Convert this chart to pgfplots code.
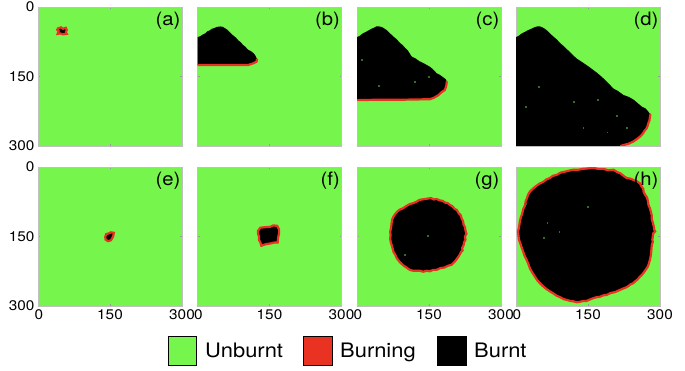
\documentclass[border=0pt]{standalone}
\usepackage{pgfplots}
\pgfplotsset{compat=1.18}
\usepackage{fontspec}
\setmainfont{TeX Gyre Heros}[FakeStretch=1.1]

\definecolor{unburnt}{RGB}{118,245,76}
\definecolor{burning}{RGB}{233,50,33}
\definecolor{frame}{RGB}{192,192,192}

\pgfplotsset{
  panel/.style={
    anchor=north west, width=144bp, height=139bp, scale only axis,
    xmin=0, xmax=300, ymin=0, ymax=300, y dir=reverse,
    axis background/.style={fill=unburnt},
    axis line style={draw=frame, line width=0.5bp},
    tick style={draw=frame!80!black, line width=0.4bp},
    major tick length=2bp, tick align=inside,
    xtick={0,150,300}, ytick={0,150,300},
    xticklabels={}, yticklabels={},
    tick label style={font=\fontsize{14}{15}\selectfont},
    /pgf/number format/assume math mode=true,
  },
  ylab/.style={yticklabels={0,150,300}},
  xlab/.style={xticklabels={{\hspace{2bp}0},150,{300\hspace{8bp}}}},
  burnt/.style={fill=black, draw=none},
  front/.style={draw=burning, line width=2.2bp, line join=miter, line cap=round},
  edge/.style={fill=black, draw=burning, line width=2.2bp, line join=miter},
  speck/.style={only marks, mark=square*, mark size=0.4bp, color=unburnt!45!black},
}
\newcommand\panellabel[1]{%
  \node[anchor=north east, inner sep=0pt, xshift=-1.5bp, yshift=-4.5bp,
        font=\fontsize{18.5}{18.5}\selectfont] at (axis cs:300,0) {#1};}

\begin{document}
\begin{tikzpicture}
\useasboundingbox (0,0) rectangle (685bp,-371bp);

% ---------------- wind-driven spread (top row) ----------------
\begin{axis}[panel, ylab, at={(38bp,-7bp)}]
  \addplot[edge] coordinates {(42,46) (48,44) (52,47) (58,45) (60,50) (58,54) (60,58) (52,59) (46,57) (41,58) (43,52) (40,49)} -- cycle;
  \panellabel{(a)}
\end{axis}

\begin{axis}[panel, at={(197.5bp,-7bp)}]
  \addplot[burnt] coordinates {(0,65) (6,63) (10,60) (16,57) (20,53) (26,50) (30,47) (36,45) (40,43) (48,42) (53,43) (56,45) (62,49) (65,52) (70,57) (75,62) (80,66) (85,72) (90,76) (95,82) (100,86) (105,92) (111,95) (117,100) (120,104) (122,108) (124,113) (123,118) (115,122) (106,125) (0,125)} -- cycle;
  \addplot[front] coordinates {(0,125) (30,125) (60,125) (90,125) (106,125) (115,122) (123,118) (124,113)};
  \panellabel{(b)}
\end{axis}

\begin{axis}[panel, at={(357bp,-7bp)}]
  \addplot[burnt] coordinates {(0,65) (6,62) (12,57) (18,54) (25,50) (30,47) (35,45) (40,42) (46,42) (51,43) (55,45) (59,48) (62,50) (68,56) (76,64) (82,69) (90,78) (95,82) (100,88) (106,94) (114,107) (122,111) (130,117) (140,122) (152,129) (158,134) (166,143) (172,146) (180,152) (185,156) (187,161) (186,170) (183,179) (176,184) (170,190) (160,196) (152,199) (100,200) (50,200) (0,201)} -- cycle;
  \addplot[front] coordinates {(187,161) (186,170) (183,179) (176,184) (170,190) (160,196) (152,199) (100,200) (50,200) (0,201)};
  \addplot[speck] coordinates {(46,170) (10,113) (120,162) (150,150)};
  \panellabel{(c)}
\end{axis}

\begin{axis}[panel, at={(516bp,-7bp)}]
  \addplot[burnt] coordinates {(0,65) (6,62) (12,57) (18,54) (25,50) (32,47) (38,44) (44,42) (50,42) (55,44) (60,47) (65,51) (70,56) (78,64) (85,70) (92,78) (100,85) (110,95) (118,103) (126,111) (135,117) (145,124) (152,129) (161,136) (170,143) (180,152) (190,162) (203,176) (212,181) (224,190) (235,194) (245,200) (253,207) (262,215) (270,219) (275,225) (280,232) (279,238) (278,245) (276,250) (274,257) (272,262) (268,267) (265,272) (262,276) (258,280) (252,285) (245,290) (235,295) (224,298) (218,300) (0,300)} -- cycle;
  \addplot[front] coordinates {(280,232) (279,238) (278,245) (276,250) (274,257) (272,262) (268,267) (265,272) (262,276) (258,280) (252,285) (245,290) (235,295) (224,298) (218,300)};
  \addplot[speck] coordinates {(48,172) (20,215) (120,205) (170,200) (210,235) (140,260) (190,270) (230,260)};
  \panellabel{(d)}
\end{axis}

% ---------------- no-wind spread (bottom row) ----------------
\begin{axis}[panel, ylab, xlab, at={(38bp,-167bp)}]
  \addplot[edge] coordinates {(142,145) (148,143) (152,141) (158,142) (157,148) (155,153) (152,158) (146,160) (141,157) (140,151)} -- cycle;
  \panellabel{(e)}
\end{axis}

\begin{axis}[panel, xlab, at={(197.5bp,-167bp)}]
  \addplot[edge] coordinates {(131,131) (140,130) (152,129) (158,126) (166,127) (170,135) (170,143) (168,152) (167,163) (160,163) (152,165) (145,166) (138,168) (133,170) (131,163) (128,157) (128,150) (126,144) (126,138)} -- cycle;
  \panellabel{(f)}
\end{axis}

\begin{axis}[panel, xlab, at={(357bp,-167bp)}]
  \addplot[edge] coordinates {(148,68) (154,67) (160,70) (166,69) (172,72) (178,73) (184,77) (189,78) (194,82) (199,85) (203,90) (208,93) (212,100) (216,104) (218,111) (221,117) (222,124) (225,130) (226,137) (228,144) (225,150) (226,157) (223,163) (222,169) (219,175) (220,180) (217,183) (213,191) (209,197) (204,204) (197,211) (190,213) (182,217) (174,218) (166,222) (159,222) (152,225) (145,224) (138,226) (131,224) (124,224) (117,224) (110,222) (103,217) (96,212) (89,205) (83,197) (80,190) (76,183) (74,175) (72,168) (70,161) (69,154) (70,147) (69,140) (71,131) (72,122) (73,114) (76,107) (80,101) (84,96) (89,92) (96,89) (103,84) (110,80) (117,78) (124,75) (130,71) (136,70) (142,69)} -- cycle;
  \addplot[speck] coordinates {(147,149) (100,190)};
  \panellabel{(g)}
\end{axis}

\begin{axis}[panel, xlab, at={(516bp,-167bp)}]
  \addplot[edge] coordinates {(102,10) (110,8) (119,6) (129,6) (140,4) (150,3) (161,2) (171,4) (182,4) (192,7) (203,6) (211,11) (218,14) (225,20) (231,24) (238,25) (245,28) (252,31) (258,35) (261,41) (265,47) (266,54) (269,60) (273,66) (275,74) (276,82) (279,89) (281,97) (283,105) (283,113) (285,120) (287,128) (288,135) (290,139) (286,143) (285,150) (284,156) (285,162) (283,168) (282,179) (281,190) (279,200) (276,211) (274,216) (270,222) (266,228) (262,233) (258,237) (253,243) (248,247) (244,251) (239,253) (234,257) (229,260) (224,262) (215,266) (206,270) (197,272) (189,276) (182,277) (175,280) (168,281) (161,283) (154,286) (147,289) (140,289) (133,291) (127,292) (120,290) (113,289) (106,287) (99,285) (92,281) (85,278) (78,273) (70,268) (63,263) (57,258) (50,251) (44,244) (39,236) (34,228) (29,219) (26,210) (22,200) (18,192) (15,183) (12,174) (9,165) (6,156) (5,147) (4,139) (6,132) (7,125) (8,118) (10,109) (13,100) (15,91) (19,82) (20,74) (23,67) (25,60) (29,53) (35,47) (42,41) (49,36) (57,32) (63,27) (70,24) (77,19) (85,17) (93,12)} -- cycle;
  \addplot[speck] coordinates {(20,80) (65,120) (90,140) (58,152) (150,85)};
  \panellabel{(h)}
\end{axis}

% ---------------- legend ----------------
\draw[fill=unburnt, draw=black, line width=0.9bp] (168bp,-336bp) rectangle (196bp,-365bp);
\node[anchor=base west, inner sep=0pt, font=\fontsize{20}{20}\selectfont] at (205bp,-357.5bp) {Unburnt};
\draw[fill=burning, draw=black, line width=0.9bp] (303bp,-336bp) rectangle (332bp,-365bp);
\node[anchor=base west, inner sep=0pt, font=\fontsize{20}{20}\selectfont] at (340bp,-357.5bp) {Burning};
\draw[fill=black, draw=black, line width=0.9bp] (437bp,-336bp) rectangle (466bp,-365bp);
\node[anchor=base west, inner sep=0pt, font=\fontsize{20}{20}\selectfont] at (474bp,-357.5bp) {Burnt};
\end{tikzpicture}
\end{document}
